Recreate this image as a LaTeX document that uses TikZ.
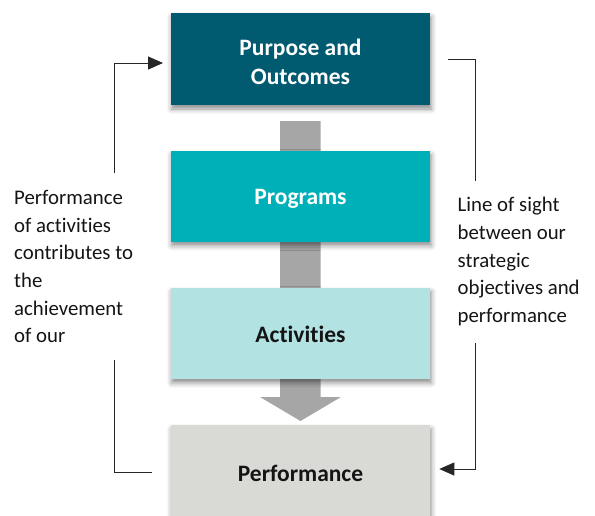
\documentclass[tikz,border=0pt]{standalone}
\usepackage{fontspec}
\setmainfont{Carlito}[Ligatures={NoCommon}]
\usetikzlibrary{arrows.meta,shadows.blur}
\definecolor{cPurpose}{RGB}{0,90,112}
\definecolor{cPrograms}{RGB}{0,176,185}
\definecolor{cActivities}{RGB}{178,226,226}
\definecolor{cPerf}{RGB}{217,217,214}
\definecolor{cArrow}{RGB}{166,166,166}
\definecolor{cLine}{RGB}{38,38,38}
\definecolor{cText}{RGB}{20,20,20}
\tikzset{
  box/.style={rectangle, inner sep=0pt, minimum width=259.7pt, minimum height=92pt,
    align=center, font=\bfseries\fontsize{23.5}{28.4}\selectfont,
    blur shadow={shadow xshift=1pt, shadow yshift=-4pt, shadow blur radius=5pt, shadow opacity=45}},
  oneline/.style={text height=17.5pt, text depth=0pt},
  sidetext/.style={anchor=north west, inner sep=0pt, align=left, text=cText,
    font=\fontsize{20.8}{27.7}\selectfont},
  link/.style={draw=cLine, line width=1pt},
  linkarrow/.style={link, -{Triangle[length=15pt,width=13pt]}},
}
\begin{document}
\begin{tikzpicture}[x=1pt,y=-1pt]
\useasboundingbox (0,0) rectangle (595,515);
% gray flow arrow behind the boxes
\fill[cArrow] (280,121) -- (320.7,121) -- (320.7,397) -- (341,397) -- (300.5,421)
  -- (260,397) -- (280,397) -- cycle;
\node[box, fill=cPurpose, text=white, text height=50pt, text depth=0pt] (purpose) at (300.5,59) {Purpose and\\Outcomes};
\node[box, oneline, fill=cPrograms, text=white, minimum height=91pt] (programs) at (300.5,196.2) {Programs};
\node[box, oneline, fill=cActivities, text=cText, minimum height=91.3pt] (activities) at (300.5,333.3) {Activities};
\node[box, oneline, fill=cPerf, text=cText, minimum height=95pt] (perf) at (300.5,472.5) {Performance};
% side texts
\node[sidetext] (lefttext) at (14,190) {Performance\\of activities\\contributes to\\the\\achievement\\of our};
\node[sidetext] (righttext) at (457.5,197.2) {Line of sight\\between our\\strategic\\objectives and\\performance};
% left connector
\coordinate (l1) at (152,472);
\coordinate (l2) at (114,360);
\coordinate (l3) at (114,173);
\coordinate (l4) at (163,63);
\draw[link] (l1) -| (l2);
\draw[linkarrow] (l3) |- (l4);
% right connector
\coordinate (r1) at (448,59.3);
\coordinate (r2) at (475.7,181);
\coordinate (r3) at (475.7,343);
\coordinate (r4) at (439.3,469);
\draw[link] (r1) -| (r2);
\draw[linkarrow] (r3) |- (r4);
\end{tikzpicture}
\end{document}
